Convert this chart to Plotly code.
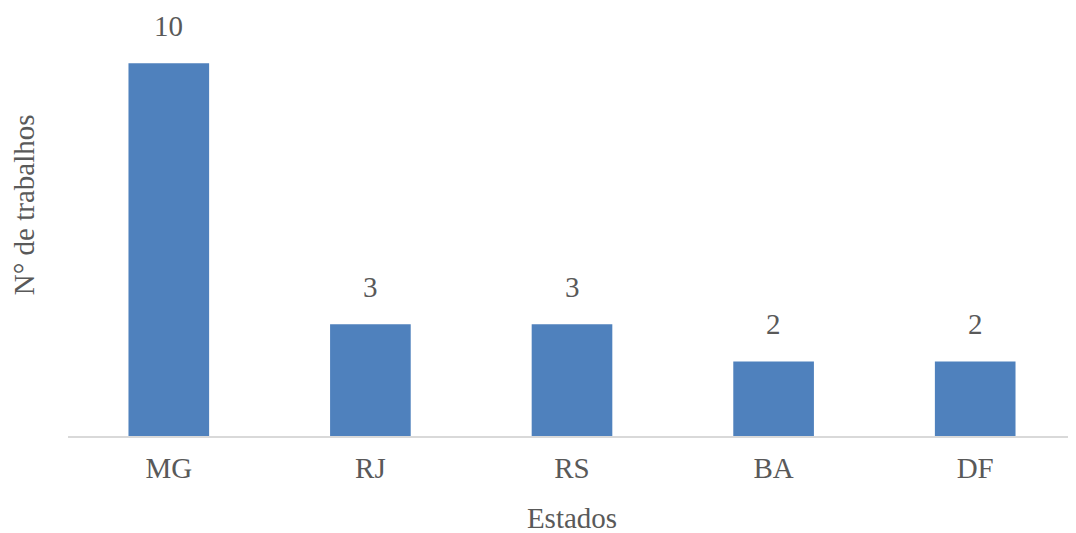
import plotly.graph_objects as go

estados = ["MG", "RJ", "RS", "BA", "DF"]
trabalhos = [10, 3, 3, 2, 2]

BAR_COLOR = "#4f81bd"
TEXT_COLOR = "#595959"
FONT = "Liberation Serif"
SIZE = 29

fig = go.Figure(
    go.Bar(
        x=estados,
        y=trabalhos,
        marker=dict(color=BAR_COLOR, line=dict(width=0)),
        hoverinfo="x+y",
    )
)

# value labels sit well above the bars, as in the original
for est, n in zip(estados, trabalhos):
    fig.add_annotation(
        x=est,
        y=n,
        text=str(n),
        showarrow=False,
        yanchor="bottom",
        yshift=19,
        font=dict(family=FONT, size=SIZE, color=TEXT_COLOR),
    )

# y title placed by hand: it is not centred on the plot area in the original
fig.add_annotation(
    xref="paper",
    yref="paper",
    x=0,
    y=0.563,
    xshift=-44,
    text="N° de trabalhos",
    textangle=-90,
    showarrow=False,
    xanchor="center",
    yanchor="middle",
    font=dict(family=FONT, size=SIZE, color=TEXT_COLOR),
)

# the page body adds an 8px offset, so margins are shifted to compensate
fig.update_layout(
    width=1076,
    height=533,
    paper_bgcolor="white",
    plot_bgcolor="white",
    bargap=0.6,
    showlegend=False,
    margin=dict(l=60, r=8, t=18, b=105, autoexpand=False),
    font=dict(family=FONT, size=SIZE, color=TEXT_COLOR),
)

fig.update_xaxes(
    title=dict(text="Estados", font=dict(size=SIZE), standoff=25),
    showline=True,
    linecolor="#d9d9d9",
    linewidth=2,
    ticks="",
    ticklabelstandoff=5,
    showgrid=False,
    automargin=False,
)
fig.update_yaxes(
    range=[0, 11],
    showticklabels=False,
    showgrid=False,
    zeroline=False,
    showline=False,
    automargin=False,
)

fig.write_html("out.html")
